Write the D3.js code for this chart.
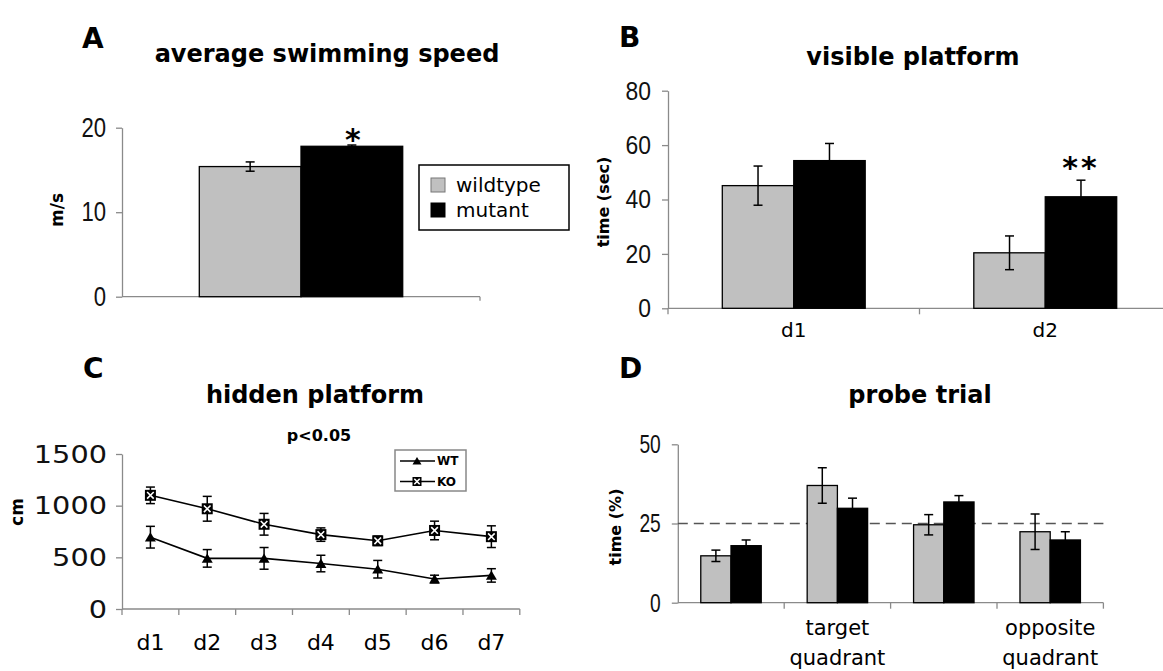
<!DOCTYPE html>
<html><head><meta charset="utf-8">
<script src="https://cdn.jsdelivr.net/npm/d3@7"></script>
<style>
body{margin:0;background:#fff;}
svg{display:block;}
</style></head><body>
<svg id="fig" width="1163" height="671"></svg>
<script>
// ---- Panel A: average swimming speed ----
const speedGroups = ["all"];
const speedWildtype = [15.4];
const speedWildtypeErr = [0.55];
const speedMutant = [17.8];
const speedMutantErr = [0.15];
const speedTicks = [0, 10, 20];

// ---- Panel B: visible platform ----
const visibleDays = ["d1", "d2"];
const visibleWildtype = [45.1, 20.4];
const visibleWildtypeErr = [7.2, 6.2];
const visibleMutant = [54.3, 41.0];
const visibleMutantErr = [6.3, 6.1];
const visibleTicks = [0, 20, 40, 60, 80];

// ---- Panel C: hidden platform ----
const hiddenDays = ["d1", "d2", "d3", "d4", "d5", "d6", "d7"];
const hiddenWT = [695, 490, 490, 440, 385, 290, 325];
const hiddenWTErr = [105, 85, 105, 80, 85, 37, 65];
const hiddenKO = [1100, 970, 820, 720, 660, 760, 700];
const hiddenKOErr = [80, 120, 105, 65, 45, 90, 105];
const hiddenTicks = [0, 500, 1000, 1500];

// ---- Panel D: probe trial ----
const probeQuadrants = ["q1", "q2", "q3", "q4"];
const probeLabels = ["", "target\nquadrant", "", "opposite\nquadrant"];
const probeWildtype = [14.8, 37.0, 24.6, 22.4];
const probeWildtypeErr = [1.8, 5.6, 3.2, 5.6];
const probeMutant = [18.0, 29.8, 31.8, 19.8];
const probeMutantErr = [1.8, 3.2, 2.0, 2.6];
const probeTicks = [0, 25, 50];
const chanceLevel = 25;

const seriesNames = ["wildtype", "mutant"];
const seriesFill = {wildtype: "#c0c0c0", mutant: "#000000"};

const svg = d3.select("#fig");
const AXIS = "#8a8a8a";
const SANS = "'Liberation Sans',Arial,sans-serif";
const VERD = "'DejaVu Sans',Verdana,sans-serif";

function panelLetter(x, y, t) {
  svg.append("text").attr("x", x).attr("y", y).text(t)
    .attr("font-family", VERD).attr("font-weight", "bold").attr("font-size", 28);
}
function title(cx, y, t, size) {
  svg.append("text").attr("x", cx).attr("y", y).attr("text-anchor", "middle").text(t)
    .attr("font-family", VERD).attr("font-weight", "bold").attr("font-size", size || 24);
}
function yLabel(cx, cy, t, size) {
  svg.append("text").attr("transform", `translate(${cx},${cy}) rotate(-90)`)
    .attr("text-anchor", "middle").attr("dy", "0.35em").text(t)
    .attr("font-family", VERD).attr("font-weight", "bold").attr("font-size", size || 16);
}
// left axis; tick labels are squeezed/stretched horizontally by sx
function yAxis(x0, y, ticks, font, size, pad, sx) {
  const g = svg.append("g").attr("transform", `translate(${x0},0)`)
    .call(d3.axisLeft(y).tickValues(ticks).tickSize(6).tickSizeOuter(0).tickPadding(pad).tickFormat(d3.format("d")));
  g.select(".domain").attr("stroke", AXIS).attr("stroke-width", 1.3);
  g.selectAll(".tick line").attr("stroke", AXIS).attr("stroke-width", 1.3);
  g.selectAll(".tick text").attr("font-family", font).attr("font-size", size).attr("fill", "#111")
    .attr("x", 0).attr("transform", `translate(${-(6 + pad)},0) scale(${sx},1)`);
  return g;
}
function xBaseline(x0, x1, yPos, tickXs, len) {
  svg.append("line").attr("x1", x0).attr("x2", x1).attr("y1", yPos).attr("y2", yPos)
    .attr("stroke", AXIS).attr("stroke-width", 1.3);
  svg.append("g").selectAll("line").data(tickXs).join("line")
    .attr("x1", d => d).attr("x2", d => d).attr("y1", yPos).attr("y2", yPos + len)
    .attr("stroke", AXIS).attr("stroke-width", 1.3);
}
function errorBar(g, cx, y, v, e, half) {
  const top = y(v + e), bot = y(v - e);
  g.append("line").attr("x1", cx).attr("x2", cx).attr("y1", top).attr("y2", bot);
  g.append("line").attr("x1", cx - half).attr("x2", cx + half).attr("y1", top).attr("y2", top);
  g.append("line").attr("x1", cx - half).attr("x2", cx + half).attr("y1", bot).attr("y2", bot);
}
// grouped bars (wildtype / mutant) with error bars
function groupedBars(groups, wt, wtErr, mu, muErr, xg, y) {
  const xs = d3.scaleBand().domain(seriesNames).range([0, xg.bandwidth()])
    .paddingInner(0).paddingOuter(0.76);
  const rows = [];
  groups.forEach((gname, i) => {
    rows.push({g: gname, s: "wildtype", v: wt[i], e: wtErr[i]});
    rows.push({g: gname, s: "mutant", v: mu[i], e: muErr[i]});
  });
  const g = svg.append("g");
  g.selectAll("rect").data(rows).join("rect")
    .attr("x", d => xg(d.g) + xs(d.s)).attr("width", xs.bandwidth())
    .attr("y", d => y(d.v)).attr("height", d => y(0) - y(d.v))
    .attr("fill", d => seriesFill[d.s]).attr("stroke", "#000").attr("stroke-width", 1.3);
  const eg = svg.append("g").attr("stroke", "#000").attr("stroke-width", 1.5);
  rows.forEach(d => errorBar(eg, xg(d.g) + xs(d.s) + xs.bandwidth() / 2, y, d.v, d.e, 4.5));
  return xs;
}
function drawMarker(g, name, x, y, size) {
  const h = size / 2;
  if (name === "WT") {
    g.append("path").attr("d", `M${x - h},${y + h * 0.8}L${x + h},${y + h * 0.8}L${x},${y - h * 0.9}Z`)
      .attr("fill", "#000");
  } else {
    g.append("rect").attr("x", x - h).attr("y", y - h).attr("width", size).attr("height", size)
      .attr("fill", "#000");
    const k = h * 0.6;
    g.append("path").attr("d", `M${x - k},${y - k}L${x + k},${y + k}M${x - k},${y + k}L${x + k},${y - k}`)
      .attr("stroke", "#fff").attr("stroke-width", 1.6);
  }
}

// ================= Panel A =================
panelLetter(82, 48, "A");
title(327, 62, "average swimming speed");
{
  const y = d3.scaleLinear().domain([0, 20]).range([296.7, 127.7]);
  const xg = d3.scaleBand().domain(speedGroups).range([122, 480]);
  yAxis(122, y, speedTicks, SANS, 27, 10, 0.82);
  xBaseline(122, 480, y(0), [480], 4);
  const xs = groupedBars(speedGroups, speedWildtype, speedWildtypeErr, speedMutant, speedMutantErr, xg, y);
  svg.append("text").attr("x", xg("all") + xs("mutant") + xs.bandwidth() / 2 + 1)
    .attr("y", y(speedMutant[0] + speedMutantErr[0]) + 5).attr("text-anchor", "middle")
    .attr("font-family", VERD).attr("font-weight", "bold").attr("font-size", 30).text("*");
  yLabel(57, 210, "m/s", 17);
  // legend
  const lg = svg.append("g");
  lg.append("rect").attr("x", 419).attr("y", 165).attr("width", 150).attr("height", 65)
    .attr("fill", "#fff").attr("stroke", "#000").attr("stroke-width", 1.5);
  seriesNames.forEach((s, i) => {
    const cy = 185 + i * 25;
    lg.append("rect").attr("x", 431).attr("y", cy - 7).attr("width", 14).attr("height", 14)
      .attr("fill", seriesFill[s]).attr("stroke", s === "wildtype" ? "#777" : "#000").attr("stroke-width", 1);
    lg.append("text").attr("x", 456).attr("y", cy).attr("dy", "0.35em").text(s)
      .attr("font-family", VERD).attr("font-size", 20);
  });
}

// ================= Panel B =================
panelLetter(619, 47, "B");
title(913, 65, "visible platform");
{
  const y = d3.scaleLinear().domain([0, 80]).range([308.3, 90.7]);
  const xg = d3.scaleBand().domain(visibleDays).range([668, 1171]);
  yAxis(668, y, visibleTicks, SANS, 26, 11, 0.88);
  xBaseline(668, 1163, y(0), [668, xg("d2")], 6);
  const xs = groupedBars(visibleDays, visibleWildtype, visibleWildtypeErr, visibleMutant, visibleMutantErr, xg, y);
  svg.append("g").selectAll("text").data(visibleDays).join("text")
    .attr("x", d => xg(d) + xg.bandwidth() / 2).attr("y", 337).attr("text-anchor", "middle")
    .attr("font-family", VERD).attr("font-size", 20).text(d => d);
  svg.append("text").attr("x", xg("d2") + xs("mutant") + xs.bandwidth() / 2)
    .attr("y", y(visibleMutant[1] + visibleMutantErr[1]) - 2).attr("text-anchor", "middle")
    .attr("font-family", VERD).attr("font-weight", "bold").attr("font-size", 30)
    .attr("letter-spacing", 3).text("**");
  yLabel(603, 202, "time (sec)", 16);
}

// ================= Panel C =================
panelLetter(83, 378, "C");
title(315, 403, "hidden platform");
svg.append("text").attr("x", 319).attr("y", 441).attr("text-anchor", "middle")
  .attr("font-family", VERD).attr("font-weight", "bold").attr("font-size", 16).text("p<0.05");
{
  const y = d3.scaleLinear().domain([0, 1500]).range([609, 454]);
  const xb = d3.scaleBand().domain(hiddenDays).range([122, 519.8]);
  const cx = d => xb(d) + xb.bandwidth() / 2;
  yAxis(122, y, hiddenTicks, VERD, 25, 9, 1.15);
  xBaseline(122, 519.8, y(0), hiddenDays.map(d => xb(d)).concat([519.8]), 6);
  svg.append("g").selectAll("text").data(hiddenDays).join("text")
    .attr("x", d => cx(d)).attr("y", 650).attr("text-anchor", "middle")
    .attr("font-family", VERD).attr("font-size", 22).text(d => d);

  const series = [
    {name: "WT", vals: hiddenWT, errs: hiddenWTErr},
    {name: "KO", vals: hiddenKO, errs: hiddenKOErr}
  ];
  const line = d3.line().x(d => cx(d.day)).y(d => y(d.v));
  series.forEach(s => {
    const pts = hiddenDays.map((day, i) => ({day, v: s.vals[i], e: s.errs[i]}));
    svg.append("path").datum(pts).attr("d", line).attr("fill", "none")
      .attr("stroke", "#000").attr("stroke-width", 1.6);
    const eg = svg.append("g").attr("stroke", "#000").attr("stroke-width", 1.5);
    pts.forEach(p => errorBar(eg, cx(p.day), y, p.v, p.e, 4.5));
    pts.forEach(p => drawMarker(svg, s.name, cx(p.day), y(p.v), 11));
  });

  // legend
  const lg = svg.append("g");
  lg.append("rect").attr("x", 395).attr("y", 450).attr("width", 71).attr("height", 41)
    .attr("fill", "#fff").attr("stroke", "#888").attr("stroke-width", 1.5);
  series.forEach((s, i) => {
    const ly = 461 + i * 20.5;
    lg.append("line").attr("x1", 400).attr("x2", 435).attr("y1", ly).attr("y2", ly)
      .attr("stroke", "#000").attr("stroke-width", 1.5);
    drawMarker(lg, s.name, 417, ly, 9);
    lg.append("text").attr("x", 437).attr("y", ly).attr("dy", "0.36em").text(s.name)
      .attr("font-family", VERD).attr("font-weight", "bold").attr("font-size", 12);
  });
  yLabel(17, 512, "cm", 17);
}

// ================= Panel D =================
panelLetter(619, 378, "D");
title(920, 403, "probe trial");
{
  const y = d3.scaleLinear().domain([0, 50]).range([602.7, 444.3]);
  const xg = d3.scaleBand().domain(probeQuadrants).range([677.8, 1103.4]);
  yAxis(677.8, y, probeTicks, SANS, 26, 11, 0.74);
  xBaseline(677.8, 1103.4, y(0), probeQuadrants.slice(1).map(d => xg(d)).concat([1103.4]), 6);
  // chance level
  svg.append("line").attr("x1", 677.8).attr("x2", 1103.4)
    .attr("y1", y(chanceLevel)).attr("y2", y(chanceLevel))
    .attr("stroke", "#555").attr("stroke-width", 1.5).attr("stroke-dasharray", "10,6");
  groupedBars(probeQuadrants, probeWildtype, probeWildtypeErr, probeMutant, probeMutantErr, xg, y);
  probeQuadrants.forEach((q, i) => {
    const lines = probeLabels[i].split("\n").filter(s => s);
    const t = svg.append("text").attr("text-anchor", "middle")
      .attr("font-family", VERD).attr("font-size", 21);
    lines.forEach((ln, j) => {
      t.append("tspan").attr("x", xg(q) + xg.bandwidth() / 2).attr("y", 635 + j * 30).text(ln);
    });
  });
  yLabel(615, 527, "time (%)", 16);
}
</script>
</body></html>
